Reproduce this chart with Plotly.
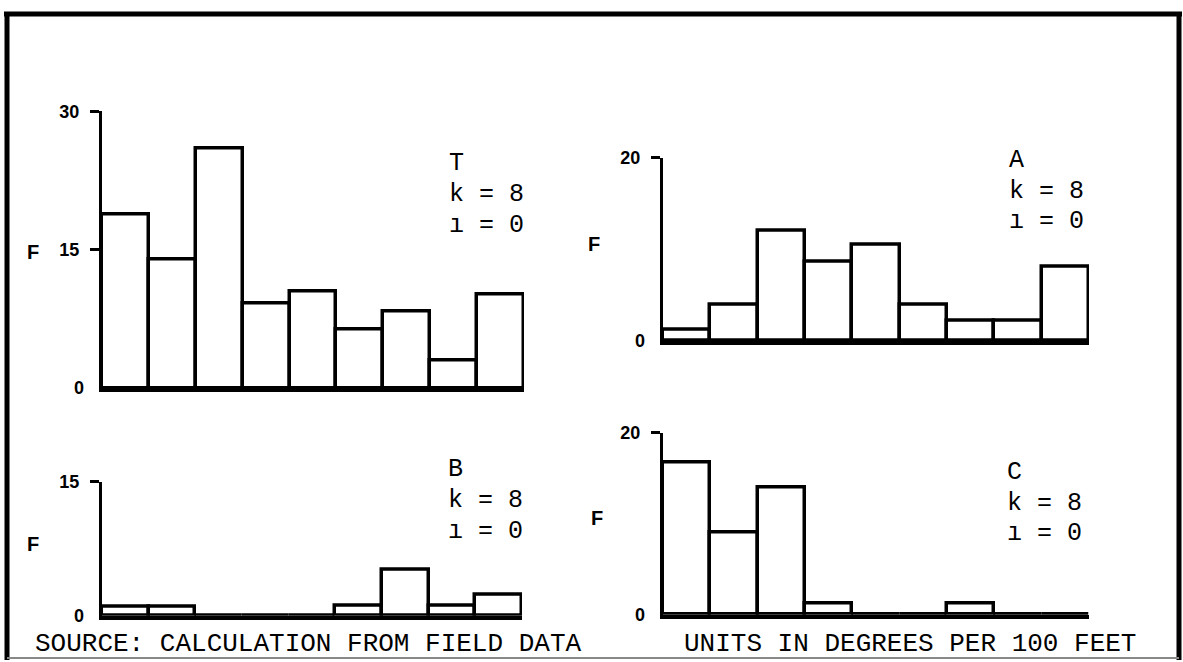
import plotly.graph_objects as go

W, H = 1183, 662

# ---- data (frequencies per class, 9 classes) ----
classes = [1, 2, 3, 4, 5, 6, 7, 8, 9]
T_vals = [18.8, 14.0, 26.0, 9.2, 10.5, 6.4, 8.3, 3.0, 10.2]
A_vals = [1.2, 4.0, 12.0, 8.6, 10.5, 4.0, 2.2, 2.2, 8.1]
B_vals = [1.0, 1.0, 0.0, 0.0, 0.0, 1.1, 5.1, 1.1, 2.3]
C_vals = [16.7, 9.0, 14.0, 1.2, 0.0, 0.0, 1.2, 0.0, 0.0]

panel_names = ["T", "A", "B", "C"]
panel_ticks = {"T": [15, 30], "A": [20], "B": [15], "C": [20]}
zero_label = "0"
panel_ymax = {"T": 30, "A": 20, "B": 15, "C": 20}
k_text = "k = 8"
i_text = "ı = 0"
source_text = "SOURCE: CALCULATION FROM FIELD DATA"
units_text = "UNITS IN DEGREES PER 100 FEET"

# ---- layout geometry (pixels) ----
def px_x(x):
    return x / W

def px_y(y):
    return 1 - y / H

geom = {
    # name: (x_left, x_right, y_zero, y_top)
    "T": (102, 524, 384, 103),
    "A": (663, 1089, 336, 150),
    "B": (102, 522, 615, 479),
    "C": (663, 1089, 614, 429),
}
values = {"T": T_vals, "A": A_vals, "B": B_vals, "C": C_vals}
tick_font = dict(family="Liberation Sans", size=18, color="black", weight="bold")

fig = go.Figure()
layout_axes = {}
for idx, name in enumerate(panel_names, start=1):
    xl, xr, y0, yt = geom[name]
    xa = "x" if idx == 1 else f"x{idx}"
    ya = "y" if idx == 1 else f"y{idx}"
    fig.add_trace(go.Bar(
        x=[c - 0.5 for c in classes], y=values[name], width=1.0,
        xaxis=xa, yaxis=ya,
        marker=dict(color="white", line=dict(color="black", width=3.5)),
        showlegend=False, hoverinfo="skip",
    ))
    layout_axes[f"xaxis{'' if idx == 1 else idx}"] = dict(
        domain=[px_x(xl), px_x(xr)], range=[0, len(classes)], anchor=ya,
        showline=True, linecolor="black", linewidth=4, showgrid=False,
        zeroline=False, showticklabels=False, ticks="", fixedrange=True,
    )
    layout_axes[f"yaxis{'' if idx == 1 else idx}"] = dict(
        domain=[px_y(y0), px_y(yt)], range=[0, panel_ymax[name]], anchor=xa,
        showline=True, linecolor="black", linewidth=3, showgrid=False,
        zeroline=False, tickvals=panel_ticks[name], ticks="outside",
        ticklen=9, tickwidth=3, tickcolor="black", ticklabelstandoff=7,
        tickfont=tick_font, fixedrange=True,
    )
    # zero label without a tick mark (as in the original)
    fig.add_annotation(x=0, y=0, xref=f"{xa} domain", yref=ya, text=zero_label,
                       showarrow=False, xanchor="right", yanchor="middle",
                       xshift=-16, font=tick_font)

fig.update_layout(
    width=W, height=H, margin=dict(l=0, r=0, t=0, b=0),
    paper_bgcolor="white", plot_bgcolor="white", bargap=0,
    **layout_axes,
)

mono = dict(family="Liberation Mono", size=25, color="black")

# panel labels
label_pos = {"T": (447, [156, 187, 219]), "A": (1007, [153, 184, 215]),
             "B": (446, [467, 498, 529]), "C": (1005, [470, 501, 532])}
for name in panel_names:
    x, ys = label_pos[name]
    for txt, y in zip([name, k_text, i_text], ys):
        fig.add_annotation(x=px_x(x), y=px_y(y), xref="paper", yref="paper",
                           text=txt, showarrow=False, xanchor="left", yanchor="middle",
                           font=mono)

# F labels
f_pos = {"T": (33, 246), "A": (594, 238), "B": (33, 542), "C": (597, 516)}
for name in panel_names:
    x, y = f_pos[name]
    fig.add_annotation(x=px_x(x), y=px_y(y), xref="paper", yref="paper",
                       text="F", showarrow=False, xanchor="center", yanchor="middle",
                       font=dict(family="Liberation Sans", size=20, color="black", weight="bold"))

# bottom texts
bottom_font = dict(family="Liberation Mono", size=26, color="black")
fig.add_annotation(x=px_x(33), y=px_y(644), xref="paper", yref="paper", text=source_text,
                   showarrow=False, xanchor="left", yanchor="middle", font=bottom_font)
fig.add_annotation(x=px_x(682), y=px_y(644), xref="paper", yref="paper", text=units_text,
                   showarrow=False, xanchor="left", yanchor="middle", font=bottom_font)

# outer frame
fig.add_shape(type="line", xref="paper", yref="paper", x0=px_x(7), x1=px_x(7),
              y0=px_y(2), y1=px_y(660), line=dict(color="black", width=5))
fig.add_shape(type="line", xref="paper", yref="paper", x0=px_x(4), x1=px_x(1182),
              y0=px_y(4), y1=px_y(4), line=dict(color="black", width=5))
fig.add_shape(type="line", xref="paper", yref="paper", x0=px_x(1179), x1=px_x(1179),
              y0=px_y(2), y1=px_y(660), line=dict(color="black", width=5))
fig.add_shape(type="line", xref="paper", yref="paper", x0=px_x(7), x1=px_x(1179),
              y0=px_y(658), y1=px_y(658), line=dict(color="#888888", width=2))

fig.write_html("out.html", config={"displayModeBar": False},
               post_script="document.body.style.margin='0';document.body.style.overflow='hidden';")
